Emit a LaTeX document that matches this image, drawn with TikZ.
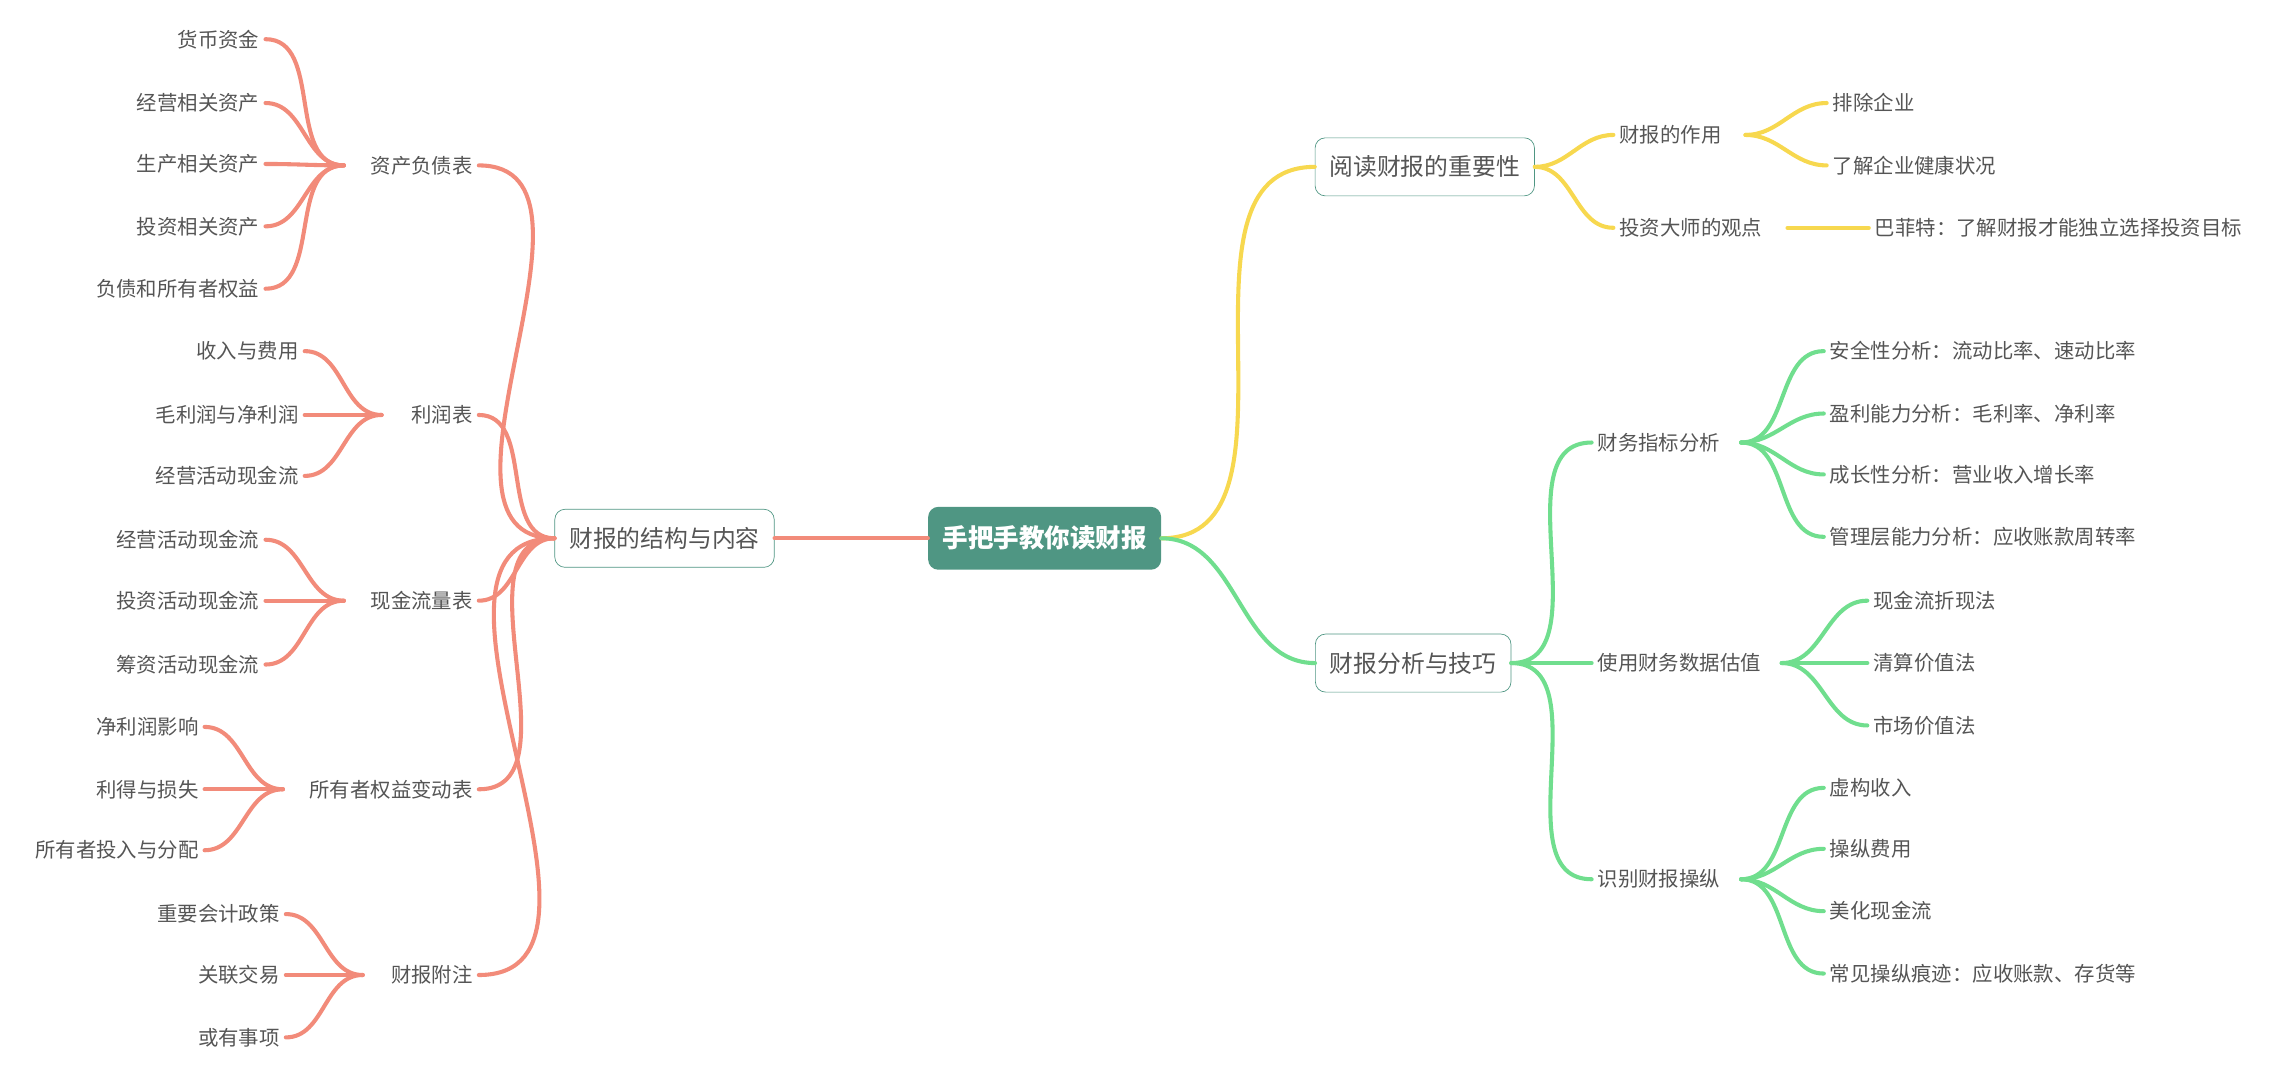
\documentclass[tikz,border=0pt]{standalone}
\usepackage{fontspec}
\setmainfont{Noto Sans CJK SC}
\usepackage{xcolor}
\usetikzlibrary{positioning}
\definecolor{rootc}{HTML}{4F9683}
\definecolor{redl}{HTML}{F28B7A}
\definecolor{yell}{HTML}{F7D84F}
\definecolor{grnl}{HTML}{70DE8E}
\definecolor{txt}{HTML}{555555}
\tikzset{
  topic/.style={draw=rootc, rounded corners=6pt, fill=white, text=txt, font=\fontsize{14}{16}\selectfont, minimum height=1.2cm, inner xsep=0.3cm},
  leaf/.style={text=txt, font=\fontsize{12}{14}\selectfont, inner sep=0.12cm},
  lnk/.style={line width=2.4pt, line cap=round}
}
\begin{document}
\begin{tikzpicture}[x=0.03cm,y=-0.03cm]
\useasboundingbox (0,0) rectangle (1568,744);

\node[fill=rootc, rounded corners=6pt, text=white, font=\bfseries\fontsize{15}{17}\selectfont, minimum height=1.3cm, inner xsep=0.3cm] (root) at (720,371) {手把手教你读财报};
\node[topic] (struct) at (458,371) {财报的结构与内容};
\node[topic] (read) at (982,115) {阅读财报的重要性};
\node[topic] (skill) at (974,457) {财报分析与技巧};

\draw[lnk,redl] (root.west) -- (struct.east);
\draw[lnk,yell] (root.east) to[out=0,in=180] (read.west);
\draw[lnk,grnl] (root.east) to[out=0,in=180] (skill.west);

% left side
\foreach \nm/\tx/\y/\jx in {bal/资产负债表/114/237, inc/利润表/286/263, cash/现金流量表/414/237, eq/所有者权益变动表/544/195, note/财报附注/672/250}{
  \node[leaf, anchor=east] (\nm) at (330,\y) {\tx};
  \draw[lnk,redl] (struct.west) to[out=180,in=0] (\nm.east);
  \coordinate (\nm-j) at (\jx,\y);
}
\foreach \nm/\tx/\y/\x in {
  bal/货币资金/27/183, bal/经营相关资产/71/183, bal/生产相关资产/113/183, bal/投资相关资产/156/183, bal/负债和所有者权益/199/183,
  inc/收入与费用/242/210, inc/毛利润与净利润/286/210, inc/经营活动现金流/328/210,
  cash/经营活动现金流/372/183, cash/投资活动现金流/414/183, cash/筹资活动现金流/458/183,
  eq/净利润影响/501/141, eq/利得与损失/544/141, eq/所有者投入与分配/586/141,
  note/重要会计政策/630/197, note/关联交易/672/197, note/或有事项/715/197}{
  \node[leaf, anchor=east] (l) at (\x,\y) {\tx};
  \draw[lnk,redl] (\nm-j) to[out=180,in=0] (l.east);
}

% right side, yellow
\node[leaf, anchor=west] (role) at (1112,93) {财报的作用};
\node[leaf, anchor=west] (master) at (1112,157) {投资大师的观点};
\draw[lnk,yell] (read.east) to[out=0,in=180] (role.west);
\draw[lnk,yell] (read.east) to[out=0,in=180] (master.west);
\node[leaf, anchor=west] (r1) at (1259,71) {排除企业};
\node[leaf, anchor=west] (r2) at (1259,114) {了解企业健康状况};
\coordinate (role-j) at (1203,93);
\draw[lnk,yell] (role-j) to[out=0,in=180] (r1.west);
\draw[lnk,yell] (role-j) to[out=0,in=180] (r2.west);
\node[leaf, anchor=west] (buf) at (1288,157) {巴菲特：了解财报才能独立选择投资目标};
\coordinate (master-j) at (1232,157);
\draw[lnk,yell] (master-j) -- (buf.west);

% right side, green
\foreach \nm/\tx/\y/\jx in {ratio/财务指标分析/305/1200, val/使用财务数据估值/457/1228, fraud/识别财报操纵/606/1200}{
  \node[leaf, anchor=west] (\nm) at (1097,\y) {\tx};
  \draw[lnk,grnl] (skill.east) to[out=0,in=180] (\nm.west);
  \coordinate (\nm-j) at (\jx,\y);
}
\foreach \nm/\tx/\y/\x in {
  ratio/安全性分析：流动比率、速动比率/242/1257, ratio/盈利能力分析：毛利率、净利率/285/1257, ratio/成长性分析：营业收入增长率/327/1257, ratio/管理层能力分析：应收账款周转率/370/1257,
  val/现金流折现法/414/1287, val/清算价值法/457/1287, val/市场价值法/500/1287,
  fraud/虚构收入/543/1257, fraud/操纵费用/585/1257, fraud/美化现金流/628/1257, fraud/常见操纵痕迹：应收账款、存货等/671/1257}{
  \node[leaf, anchor=west] (l) at (\x,\y) {\tx};
  \draw[lnk,grnl] (\nm-j) to[out=0,in=180] (l.west);
}
\end{tikzpicture}
\end{document}
